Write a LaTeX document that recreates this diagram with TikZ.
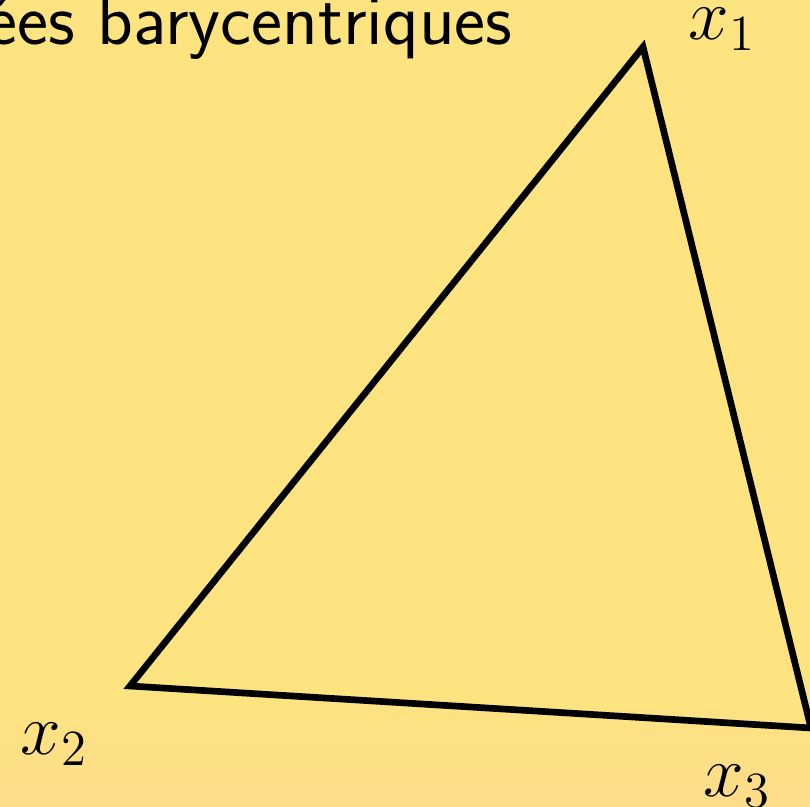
\documentclass[tikz,border=0pt]{standalone}
\usepackage{fontspec}
\definecolor{fondjaune}{RGB}{254,228,128}
\definecolor{fondorange}{RGB}{253,220,138}
\tikzset{sommet/.style={inner sep=0pt,anchor=base west,font=\fontsize{20.74}{25}\selectfont}}
\begin{document}
\begin{tikzpicture}[x=0.01cm,y=0.01cm]
\fill[fondjaune] (0,0) rectangle (810,807);
\shade[top color=fondjaune,bottom color=fondorange] (0,0) rectangle (810,120);
\useasboundingbox (0,0) rectangle (810,807);
\node[inner sep=0pt,anchor=base east,font=\fontsize{21}{25}\selectfont\sffamily] (titre) at (513,762) {ées barycentriques};
\coordinate (x1) at (643,760); \coordinate (x2) at (130,121); \coordinate (x3) at (811,79);
\draw[line width=1.9pt] (x1)--(x2)--(x3)--cycle;
\node[sommet] (l1) at (688,767) {$x_1$};
\node[sommet] (l2) at (20,52) {$x_2$};
\node[sommet] (l3) at (703,10) {$x_3$};
\end{tikzpicture}
\end{document}
